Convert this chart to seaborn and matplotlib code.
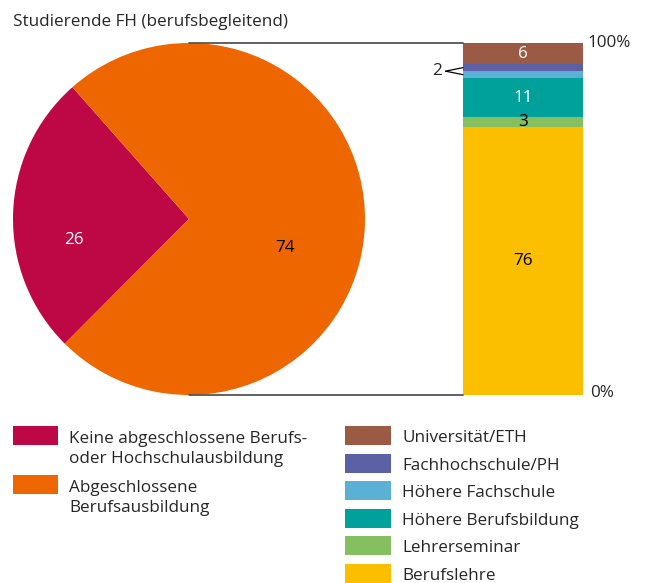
import numpy as np
import pandas as pd
import seaborn as sns
import matplotlib.pyplot as plt
from matplotlib.patches import Rectangle, ConnectionPatch

# Data
pie_labels = ['Keine abgeschlossene Berufs-\noder Hochschulausbildung',
              'Abgeschlossene\nBerufsausbildung']
pie_values = [26, 74]
pie_colors = ['#BE0846', '#EE6600']

# bottom -> top
bar_labels = ['Berufslehre', 'Lehrerseminar', 'Höhere Berufsbildung',
              'Höhere Fachschule', 'Fachhochschule/PH', 'Universität/ETH']
bar_values = [76, 3, 11, 2, 2, 6]
bar_colors = ['#FBBF00', '#86BF60', '#00A19A', '#5BB0D6', '#5C60A5', '#9A5A43']
bar_text_colors = ['black', 'black', 'white', None, None, 'white']

sns.set_theme(style='white')
plt.rcParams['font.family'] = ['Open Sans', 'DejaVu Sans']
FS = 12.3

W, H = 645, 583
fig = plt.figure(figsize=(W / 100, H / 100), dpi=100)

# Pie
ax_pie = fig.add_axes([13 / W, 1 - 395 / H, 352 / W, 352 / H])
ax_pie.pie(pie_values, colors=pie_colors, startangle=131.5, counterclock=True,
           radius=1, wedgeprops=dict(linewidth=0))
ax_pie.set_xlim(-1, 1)
ax_pie.set_ylim(-1, 1)
ax_pie.set_aspect('equal')
ax_pie.axis('off')
ax_pie.text(-0.653, -0.122, str(pie_values[0]), color='white', fontsize=FS,
            ha='center', va='center')
ax_pie.text(0.545, -0.162, str(pie_values[1]), color='black', fontsize=FS,
            ha='center', va='center')

# Stacked bar (cumulative totals drawn top-down)
ax_bar = fig.add_axes([463 / W, 1 - 395 / H, 120 / W, 352 / H])
cum = np.cumsum(bar_values)
for i in range(len(bar_values) - 1, -1, -1):
    sns.barplot(x=['FH'], y=[cum[i]], color=bar_colors[i], width=1,
                saturation=1, ax=ax_bar, linewidth=0)
ax_bar.set_xlim(-0.5, 0.5)
ax_bar.set_ylim(0, 100)
ax_bar.axis('off')

starts = cum - np.array(bar_values)
for i, v in enumerate(bar_values):
    if bar_text_colors[i] is None:
        continue
    ax_bar.text(0, starts[i] + v / 2, str(v), color=bar_text_colors[i],
                fontsize=FS, ha='center', va='center')

# "2" pointer to the two thin segments
mid_a = starts[3] + bar_values[3] / 2
mid_b = starts[4] + bar_values[4] / 2
tip_y = (mid_a + mid_b) / 2
for m in [mid_a, mid_b]:
    ax_bar.plot([-0.645, -0.5], [tip_y, m], color='black', lw=0.9, clip_on=False)
ax_bar.text(-0.68, tip_y, '2', fontsize=FS, ha='right', va='center')

ax_bar.text(0.54, 100, '100%', fontsize=FS, ha='left', va='center')
ax_bar.text(0.56, 0.5, '0%', fontsize=FS, ha='left', va='center')

# Connecting lines
for y_pie, y_bar in [(1, 100), (-1, 0)]:
    con = ConnectionPatch(xyA=(0, y_pie), coordsA=ax_pie.transData,
                          xyB=(-0.5, y_bar), coordsB=ax_bar.transData,
                          color='#555555', lw=1.3)
    fig.add_artist(con)

# Overlay in pixel coords for title and legend
ax_ov = fig.add_axes([0, 0, 1, 1], zorder=-1)
ax_ov.set_xlim(0, W)
ax_ov.set_ylim(H, 0)
ax_ov.axis('off')

ax_ov.text(13, 26, 'Studierende FH (berufsbegleitend)', fontsize=FS,
           ha='left', va='baseline')

left_rows = [426, 475]
for top, lab, c in zip(left_rows, pie_labels, pie_colors):
    ax_ov.add_patch(Rectangle((13, top), 45, 19, color=c, lw=0))
    for k, line in enumerate(lab.split('\n')):
        ax_ov.text(69, top + 17 + 20 * k, line, fontsize=FS, ha='left',
                   va='baseline')

right_rows = [426, 454, 481, 509, 536, 564]
for top, lab, c in zip(right_rows, bar_labels[::-1], bar_colors[::-1]):
    ax_ov.add_patch(Rectangle((345, top), 46, 19, color=c, lw=0))
    ax_ov.text(402, top + 16, lab, fontsize=FS, ha='left', va='baseline')

plt.savefig('out.png', dpi=100)
